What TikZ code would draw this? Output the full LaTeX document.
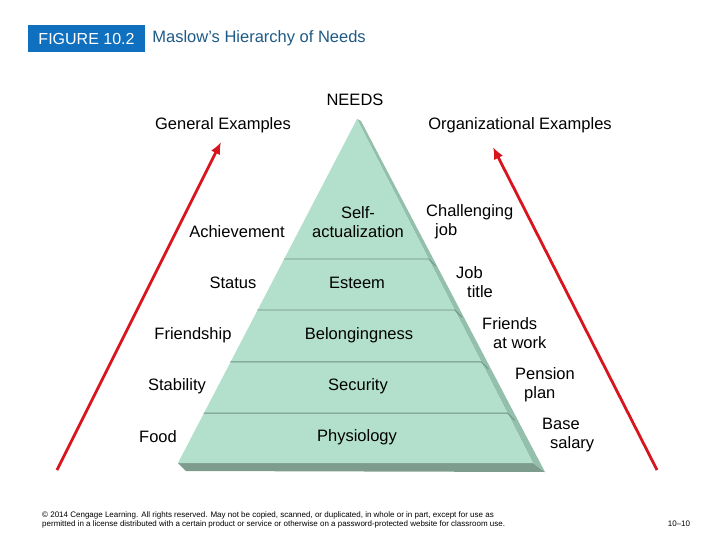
\documentclass[tikz,border=0pt]{standalone}
\usepackage{fontspec}
\setmainfont{Liberation Sans}
\usepackage{tikz}
\usetikzlibrary{arrows.meta,calc,positioning}
\definecolor{figblue}{HTML}{1070C0}
\definecolor{figtitle}{HTML}{1E5A86}
\definecolor{pyrface}{HTML}{B3E0CD}
\definecolor{pyrside}{HTML}{93BFAC}
\definecolor{pyrbase}{HTML}{7D9C8E}
\definecolor{pyrline}{HTML}{6E8F80}
\definecolor{risered}{HTML}{D8141E}
\tikzset{
every picture/.style={line cap=round,line join=round},
fig tag/.style={
  fill=figblue,
  text=white,
  minimum width=117pt,
  minimum height=27pt,
  inner sep=0pt,
  font=\fontsize{16}{18}\selectfont
},
fig title/.style={text=figtitle, inner sep=0pt, anchor=west, font=\fontsize{16.5}{18}\selectfont},
need text/.style={font=\fontsize{16.5}{19}\selectfont, align=center, inner sep=0pt},
org text/.style={need text, align=left, anchor=west},
layer line/.style={draw=pyrline, line width=0.8pt},
rise arrow/.style={
  draw=risered,
  line width=2.8pt,
  line cap=butt,
  -{Latex[length=12pt,width=10pt]}
},
footer text/.style={font=\fontsize{8}{9}\selectfont, align=left, inner sep=0pt}
}

\begin{document}
\begin{tikzpicture}[x=1pt,y=-1pt]
\useasboundingbox (0,0) rectangle (720,540);
% heading
\node[fig tag] (tag) at (86.5,38.5) {FIGURE 10.2};
\node[fig title, right=7pt of tag] (title) {Maslow's Hierarchy of Needs};
% pyramid
\coordinate (apex) at (357,119);
\coordinate (bl) at (178,463);
\coordinate (br) at (533,463);
\fill[pyrbase] (bl) -- (br) -- ++(12,9) -- (186,471) -- cycle;
\fill[pyrside] (apex) -- ++(4,2) -- (545,472) -- (br) -- cycle;
\fill[pyrface] (apex) -- (bl) -- (br) -- cycle;
\foreach \t in {0.407,0.555,0.706,0.855}
  \draw[layer line] ($(apex)!\t!(bl)$) -- ($(apex)!\t!(br)$) -- ++(7,7);
% column heads
\node[need text] (needs) at (355,100) {NEEDS};
\node[need text] (general) at (223,125) {General Examples};
\node[need text] (organizational) at (520,125) {Organizational Examples};
% needs levels
\node[need text] (selfact) at (358,222) {Self-\\actualization};
\node[need text] (esteem) at (357,283) {Esteem};
\node[need text] (belong) at (359,335) {Belongingness};
\node[need text] (security) at (358,386) {Security};
\node[need text] (physio) at (357,437) {Physiology};
% general examples
\node[need text] (achieve) at (237,232) {Achievement};
\node[need text] (status) at (233,283) {Status};
\node[need text] (friendship) at (193,335) {Friendship};
\node[need text] (stability) at (177,386) {Stability};
\node[need text] (food) at (158,437) {Food};
% organizational examples
\node[org text] (challenge) at (426,222) {Challenging\\\hspace*{9pt}job};
\node[org text] (jobtitle) at (456,282.5) {Job\\\hspace*{11pt}title};
\node[org text] (friends) at (482,333.5) {Friends\\\hspace*{11pt}at work};
\node[org text] (pension) at (515,385) {Pension\\\hspace*{9pt}plan};
\node[org text] (salary) at (542,435.5) {Base\\\hspace*{8pt}salary};
% rising arrows
\coordinate (gen foot) at (57,470);
\coordinate (gen head) at (221,142);
\coordinate (org foot) at (657,470);
\coordinate (org head) at (493,147);
\draw[rise arrow] (gen foot) -- (gen head);
\draw[rise arrow] (org foot) -- (org head);
% footer
\node[footer text, anchor=west] (rights) at (42,519.5) {© 2014 Cengage Learning. All rights reserved. May not be copied, scanned, or duplicated, in whole or in part, except for use as\\permitted in a license distributed with a certain product or service or otherwise on a password-protected website for classroom use.};
\node[footer text] (pagenum) at (679,524) {10--10};
\end{tikzpicture}
\end{document}
